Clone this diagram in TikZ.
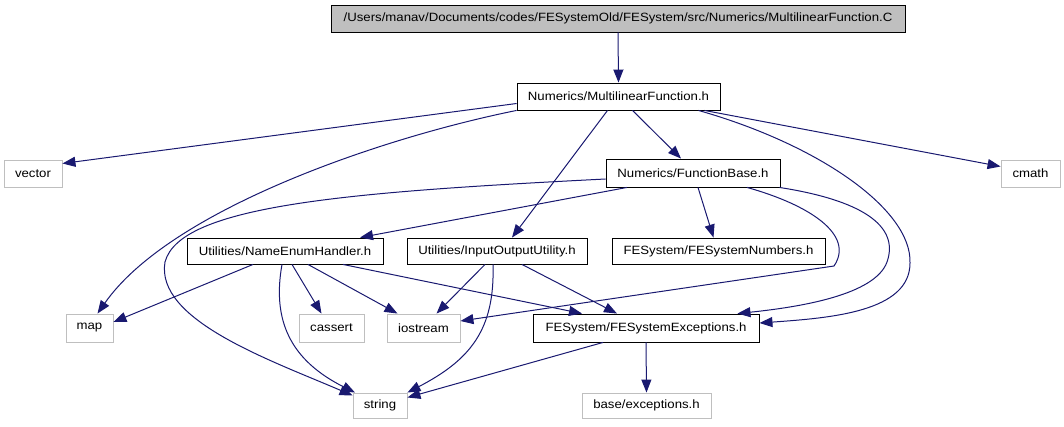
\documentclass[tikz,border=0pt]{standalone}
\usepackage{fontspec}
\setmainfont{Liberation Sans}[FakeStretch=1.1]
\usetikzlibrary{arrows.meta}
\definecolor{edgeblue}{HTML}{191970}
\definecolor{extgray}{HTML}{BFBFBF}
\tikzset{
  box/.style={rectangle, inner sep=0pt, line width=0.9pt, font=\fontsize{12}{14}\selectfont, text=black},
  docbox/.style={box, draw=black, fill=white},
  extbox/.style={box, draw=extgray, fill=white},
  rootbox/.style={box, draw=black, fill=extgray},
  dep/.style={draw=edgeblue, line width=1pt, -{Triangle[length=13pt,width=10pt]}},
}
\begin{document}
\begin{tikzpicture}[x=1pt,y=-1pt]
\useasboundingbox (0,0) rectangle (1064,427);
% nodes
\node[rootbox, minimum width=574pt, minimum height=27pt] (root) at (618,18.5) {/Users/manav/Documents/codes/FESystemOld/FESystem/src/Numerics/MultilinearFunction.C};
\node[docbox, minimum width=203pt, minimum height=27pt] (MF) at (618.5,96.5) {Numerics/MultilinearFunction.h};
\node[extbox, minimum width=58pt, minimum height=27pt] (vector) at (33,173.5) {vector};
\node[docbox, minimum width=174pt, minimum height=28pt] (FB) at (693,173) {Numerics/FunctionBase.h};
\node[extbox, minimum width=59pt, minimum height=27pt] (cmath) at (1030.5,173.5) {cmath};
\node[docbox, minimum width=196pt, minimum height=26pt] (NE) at (285,251) {Utilities/NameEnumHandler.h};
\node[docbox, minimum width=180pt, minimum height=26pt] (IO) at (497,251) {Utilities/InputOutputUtility.h};
\node[docbox, minimum width=213pt, minimum height=26pt] (FESN) at (718.5,251) {FESystem/FESystemNumbers.h};
\node[extbox, minimum width=47pt, minimum height=28pt] (map) at (89.5,328) {map};
\node[extbox, minimum width=65pt, minimum height=28pt] (cassert) at (331.5,328) {cassert};
\node[extbox, minimum width=73pt, minimum height=28pt] (iostream) at (423.5,328) {iostream};
\node[docbox, minimum width=226pt, minimum height=28pt] (FEExc) at (646,328) {FESystem/FESystemExceptions.h};
\node[extbox, minimum width=54pt, minimum height=25pt] (string) at (380,405.5) {string};
\node[extbox, minimum width=129pt, minimum height=25pt] (base) at (646.5,405.5) {base/exceptions.h};
% edges
\draw[dep] (root.south) -- (MF.north);
\draw[dep] ([yshift=-7pt]MF.west) -- ([yshift=10pt]vector.east);
\draw[dep] (MF.south west) .. controls (380,138) and (170,210) .. ([xshift=8pt]map.north);
\draw[dep] ([xshift=14pt]MF.south) -- ([xshift=-12pt]FB.north);
\draw[dep] ([xshift=-11pt]MF.south) -- ([xshift=15pt]IO.north);
\draw[dep] ([xshift=86pt]MF.south) -- ([yshift=7pt]cmath.west);
\draw[dep] ([xshift=80pt]MF.south) .. controls (820,145) and (912,210) .. (910,263)
  .. controls (910,312) and (830,318) .. ([yshift=5pt]FEExc.east);
\draw[dep] ([yshift=-6pt]FB.west) .. controls (350,192) and (180,205) .. (165,262)
  .. controls (155,320) and (270,360) .. ([yshift=10pt]string.west);
\draw[dep] ([xshift=-66pt]FB.south) -- ([xshift=75pt]NE.north);
\draw[dep] ([xshift=5pt]FB.south) -- ([xshift=-5pt]FESN.north);
\draw[dep] ([xshift=54pt]FB.south) .. controls (810,205) and (855,235) .. (834,266)
  -- ([yshift=7pt]iostream.east);
\draw[dep] ([xshift=-1pt]FB.south east) .. controls (860,200) and (900,225) .. (887,262)
  .. controls (875,295) and (800,307) .. ([xshift=-22pt]FEExc.north east);
\draw[dep] ([xshift=-32pt]NE.south) -- ([yshift=6pt]map.east);
\draw[dep] ([xshift=-3pt]NE.south) .. controls (272,320) and (290,360) .. ([xshift=-25pt]string.north);
\draw[dep] ([xshift=7pt]NE.south) -- ([xshift=-10pt]cassert.north);
\draw[dep] ([xshift=23pt]NE.south) -- ([xshift=-26pt]iostream.north);
\draw[dep] ([xshift=58pt]NE.south) -- ([xshift=-64pt]FEExc.north);
\draw[dep] ([xshift=-12pt]IO.south) -- ([xshift=13pt]iostream.north);
\draw[dep] ([xshift=-4pt]IO.south) .. controls (495,330) and (470,360) .. (string.north east);
\draw[dep] ([xshift=25pt]IO.south) -- ([xshift=-29pt]FEExc.north);
\draw[dep] ([xshift=-43pt]FEExc.south) -- ([yshift=8pt]string.east);
\draw[dep] (FEExc.south) -- (base.north);
\end{tikzpicture}
\end{document}
